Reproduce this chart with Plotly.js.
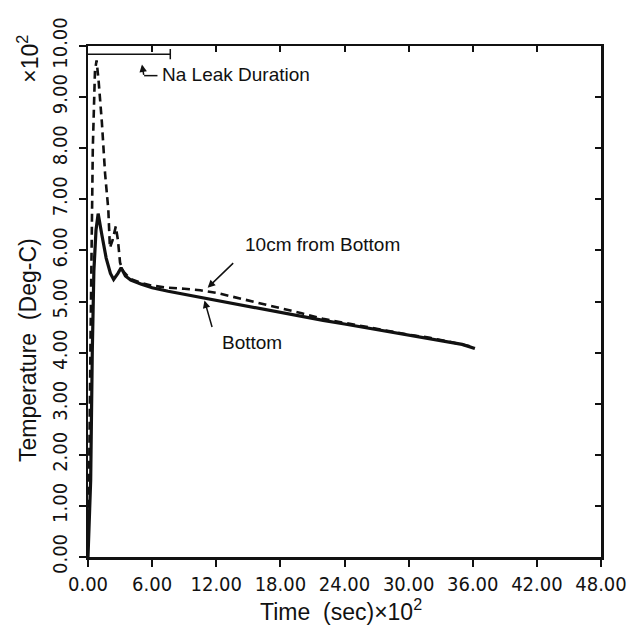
<!DOCTYPE html>
<html>
<head>
<meta charset="utf-8">
<script src="https://cdn.plot.ly/plotly-3.0.1.min.js"></script>
<style>html,body{margin:0;padding:0;background:#fff;}#chart{width:635px;height:635px;}</style>
</head>
<body>
<div id="chart"></div>
<script>
// Time in units of 10^2 s, temperature in units of 10^2 deg-C
const bottomTime = [0, 0.05, 0.25, 0.4, 0.55, 0.75, 0.95, 1.3, 1.7, 2.1, 2.4, 2.8, 3.1, 3.5, 4.0, 5.0, 6.0, 7.5, 9.0, 10.5, 12.0, 14.0, 16.0, 18.0, 20.0, 22.0, 24.0, 26.0, 28.0, 30.0, 32.0, 34.0, 35.0, 36.2];
const bottomTemp = [0.0, 0.3, 1.5, 4.0, 5.6, 6.4, 6.72, 6.3, 5.85, 5.55, 5.43, 5.55, 5.66, 5.5, 5.42, 5.34, 5.27, 5.2, 5.14, 5.08, 5.02, 4.94, 4.86, 4.78, 4.71, 4.63, 4.56, 4.49, 4.41, 4.34, 4.28, 4.21, 4.16, 4.08];

const upperTime = [0, 0.1, 0.25, 0.45, 0.65, 0.8, 1.0, 1.3, 1.6, 1.9, 2.05, 2.3, 2.6, 2.8, 3.0, 3.3, 3.9, 5.0, 6.0, 7.5, 9.0, 10.5, 12.0, 14.0, 16.0, 18.0, 20.0, 22.0, 24.0, 26.0, 28.0, 30.0, 32.0, 34.0, 35.0, 36.2];
const upperTemp = [0.2, 1.5, 4.5, 8.0, 9.5, 9.72, 9.3, 8.5, 7.5, 6.8, 6.05, 6.2, 6.47, 6.2, 5.76, 5.59, 5.45, 5.36, 5.31, 5.27, 5.25, 5.22, 5.17, 5.07, 4.98, 4.88, 4.77, 4.66, 4.58, 4.5, 4.43, 4.35, 4.29, 4.21, 4.16, 4.1];

const leakStart = 0, leakEnd = 7.7, leakLevel = 9.84;

const xTicks = [0, 6, 12, 18, 24, 30, 36, 42, 48];
const xTickText = ['0.00', '6.00', '12.00', '18.00', '24.00', '30.00', '36.00', '42.00', '48.00'];
const yTicks = [0, 1, 2, 3, 4, 5, 6, 7, 8, 9, 10];
const yTickText = ['0.00', '1.00', '2.00', '3.00', '4.00', '5.00', '6.00', '7.00', '8.00', '9.00', '10.00'];

const tickFont = {family: 'Liberation Sans Narrow, DejaVu Sans Condensed, Arial Narrow, sans-serif', size: 20, color: '#111'};
const txtFont = {family: 'Liberation Sans, Arial, sans-serif', size: 19, color: '#111'};
const titleFont = {family: 'Liberation Sans, Arial, sans-serif', size: 23, color: '#111'};

const traces = [
  {x: upperTime, y: upperTemp, mode: 'lines', name: '10cm from Bottom',
   line: {color: '#111', width: 2.6, dash: '8px,5px'}},
  {x: bottomTime, y: bottomTemp, mode: 'lines', name: 'Bottom',
   line: {color: '#111', width: 3.2}},
  {x: [leakStart, leakEnd, leakEnd, leakEnd], y: [leakLevel, leakLevel, leakLevel + 0.1, leakLevel - 0.1],
   mode: 'lines', line: {color: '#111', width: 1.5}, hoverinfo: 'skip'},
  {x: [0], y: [0], xaxis: 'x2', yaxis: 'y2', mode: 'markers', marker: {opacity: 0}, hoverinfo: 'skip'}
];

const axBase = {showgrid: false, zeroline: false, showline: true, linecolor: '#111', linewidth: 2.5, tickcolor: '#111', tickwidth: 2};

const layout = {
  width: 635, height: 635,
  margin: {l: 88, r: 34, t: 46, b: 78},
  paper_bgcolor: '#fff', plot_bgcolor: '#fff',
  showlegend: false,
  xaxis: Object.assign({}, axBase, {range: [0, 48], tickvals: xTicks, ticktext: xTickText, ticks: 'outside', ticklen: 7,
    tickfont: tickFont, tickangle: 0}),
  yaxis: Object.assign({}, axBase, {range: [0, 10], tickvals: yTicks, ticktext: yTickText, ticks: 'outside', ticklen: 7,
    tickfont: tickFont, tickangle: -90, ticklabelstandoff: 4}),
  xaxis2: Object.assign({}, axBase, {range: [0, 48], tickvals: xTicks, overlaying: 'x', side: 'top', anchor: 'y', ticks: 'inside', ticklen: 6, showticklabels: false}),
  yaxis2: Object.assign({}, axBase, {range: [0, 10], tickvals: yTicks, overlaying: 'y', side: 'right', anchor: 'x', ticks: 'inside', ticklen: 6, showticklabels: false}),
  annotations: [
    {xref: 'paper', yref: 'paper', x: -0.117, y: 0.405, xanchor: 'center', yanchor: 'middle', text: 'Temperature  (Deg-C)', textangle: -90, showarrow: false, font: titleFont},
    {xref: 'paper', yref: 'paper', x: -0.117, y: 0.975, xanchor: 'center', yanchor: 'middle', text: '×10<sup>2</sup>', textangle: -90, showarrow: false, font: titleFont},
    {xref: 'paper', yref: 'paper', x: 0.493, y: -0.103, xanchor: 'center', yanchor: 'middle', text: 'Time  (sec)×10<sup>2</sup>', showarrow: false, font: titleFont},
    {x: 6.75, y: 9.45, text: 'Na Leak Duration', xanchor: 'left', yanchor: 'middle', showarrow: false, font: txtFont},
    {x: 5.05, y: 9.64, text: '', showarrow: true, arrowhead: 2, arrowsize: 1, arrowwidth: 1.5, arrowcolor: '#111', ax: 2, ay: 12},
    {x: 14.5, y: 6.12, text: '10cm from Bottom', xanchor: 'left', yanchor: 'middle', showarrow: false, font: txtFont},
    {x: 11.2, y: 5.27, text: '', showarrow: true, arrowhead: 2, arrowsize: 1, arrowwidth: 1.5, arrowcolor: '#111', ax: 27, ay: -26},
    {x: 12.35, y: 4.2, text: 'Bottom', xanchor: 'left', yanchor: 'middle', showarrow: false, font: txtFont},
    {x: 10.9, y: 5.02, text: '', showarrow: true, arrowhead: 2, arrowsize: 1, arrowwidth: 1.5, arrowcolor: '#111', ax: 8, ay: 28}
  ],
  shapes: [
    {type: 'path', path: 'M 5.25 9.42 L 6.5 9.42', line: {color: '#111', width: 1.5}}
  ]
};

Plotly.newPlot('chart', traces, layout, {staticPlot: true, displayModeBar: false});
</script>
</body>
</html>
